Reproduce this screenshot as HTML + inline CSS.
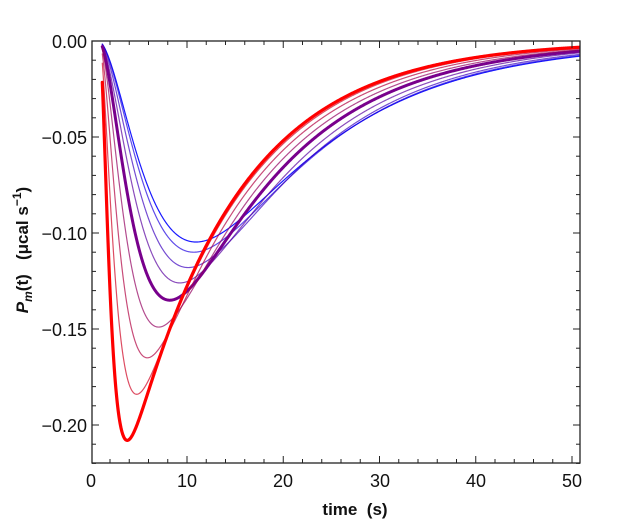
<!DOCTYPE html>
<html><head><meta charset="utf-8"><style>
body{margin:0;background:#fff;}
svg{display:block;font-family:"Liberation Sans",sans-serif;}
</style></head><body>
<svg id="s" width="623" height="520" viewBox="0 0 623 520" xmlns="http://www.w3.org/2000/svg">
<defs><clipPath id="c"><rect x="92" y="41" width="488" height="422"/></clipPath></defs>
<g id="curves" clip-path="url(#c)" fill="none" stroke-linejoin="round" stroke-linecap="round"></g>
<rect x="92" y="41" width="488" height="422" fill="none" stroke="#222" stroke-width="1.3"/>
<g id="ticks" stroke="#222" stroke-width="1"></g>
<g font-size="18" fill="#111" text-anchor="end">
<text x="87" y="48">0.00</text>
<text x="87" y="144">−0.05</text>
<text x="87" y="240">−0.10</text>
<text x="87" y="336">−0.15</text>
<text x="87" y="432">−0.20</text>
</g>
<g font-size="18" fill="#111" text-anchor="middle">
<text x="91" y="487">0</text>
<text x="187" y="487">10</text>
<text x="283" y="487">20</text>
<text x="380" y="487">30</text>
<text x="476" y="487">40</text>
<text x="572" y="487">50</text>
</g>
<text x="355" y="515" font-size="17" font-weight="bold" text-anchor="middle" fill="#111" xml:space="preserve">time  (s)</text>
<text transform="translate(28,250) rotate(-90)" font-size="17" font-weight="bold" text-anchor="middle" fill="#111" xml:space="preserve"><tspan font-style="italic">P</tspan><tspan font-size="12" dy="4" font-style="italic">m</tspan><tspan dy="-4">(t)   (μcal s</tspan><tspan font-size="12" dy="-7">−1</tspan><tspan dy="7">)</tspan></text>
</svg>
<script>
var NS="http://www.w3.org/2000/svg";
function X(t){return 90.75+9.625*t;}
function Y(v){return 41-1920*v;}
var tk=document.getElementById('ticks');
function line(x1,y1,x2,y2){var l=document.createElementNS(NS,'line');l.setAttribute('x1',x1);l.setAttribute('y1',y1);l.setAttribute('x2',x2);l.setAttribute('y2',y2);tk.appendChild(l);}
for(var t=2;t<=50;t+=2){var x=X(t);var L=(t%10==0)?7:4;line(x,463,x,463-L);line(x,41,x,41+L);}
for(var i=0;i<=22;i++){var v=-i*0.01;var y=Y(v);var L=(i%5==0)?7:4;line(92,y,92+L,y);line(580,y,580-L,y);}
var depths=[0.208,0.184,0.165,0.149,0.135,0.126,0.118,0.110,0.1047];
var g=document.getElementById('curves');
for(var i=8;i>=0;i--){
  var p=i/8;
  var k1=0.09+(0.074-0.09)*p;
  var k2=0.31*Math.pow(1.6/0.31,(1-p)*(1-p));
  var t0=0.9-0.15*p;
  function f(s){return Math.exp(-k1*s)-Math.exp(-k2*s)*(1+(k2-k1)*s);}
  var mx=0;for(var s=0;s<60;s+=0.02){var q=f(s);if(q>mx)mx=q;}
  var A=depths[i]/mx;
  var d="";
  for(var t=1.2;t<=51;t+=0.05){var v=-A*f(t-t0);d+=(d?"L":"M")+X(t).toFixed(2)+","+Y(v).toFixed(2);}
  var pa=document.createElementNS(NS,'path');
  pa.setAttribute('d',d);
  var r=Math.round(235*(1-p)),b=Math.round(255*p);
  var gg=0;
  if(i==4){r=120;b=140;}
  if(i==0){r=255;}
  pa.setAttribute('stroke','rgb('+r+','+gg+','+b+')');
  var w=1.2,o=0.7;
  if(i==0){w=3.2;o=1;} else if(i==4){w=3;o=1;} else if(i==8){o=0.9;}
  pa.setAttribute('stroke-width',w);pa.setAttribute('stroke-opacity',o);
  g.appendChild(pa);
}
</script>
</body></html>
